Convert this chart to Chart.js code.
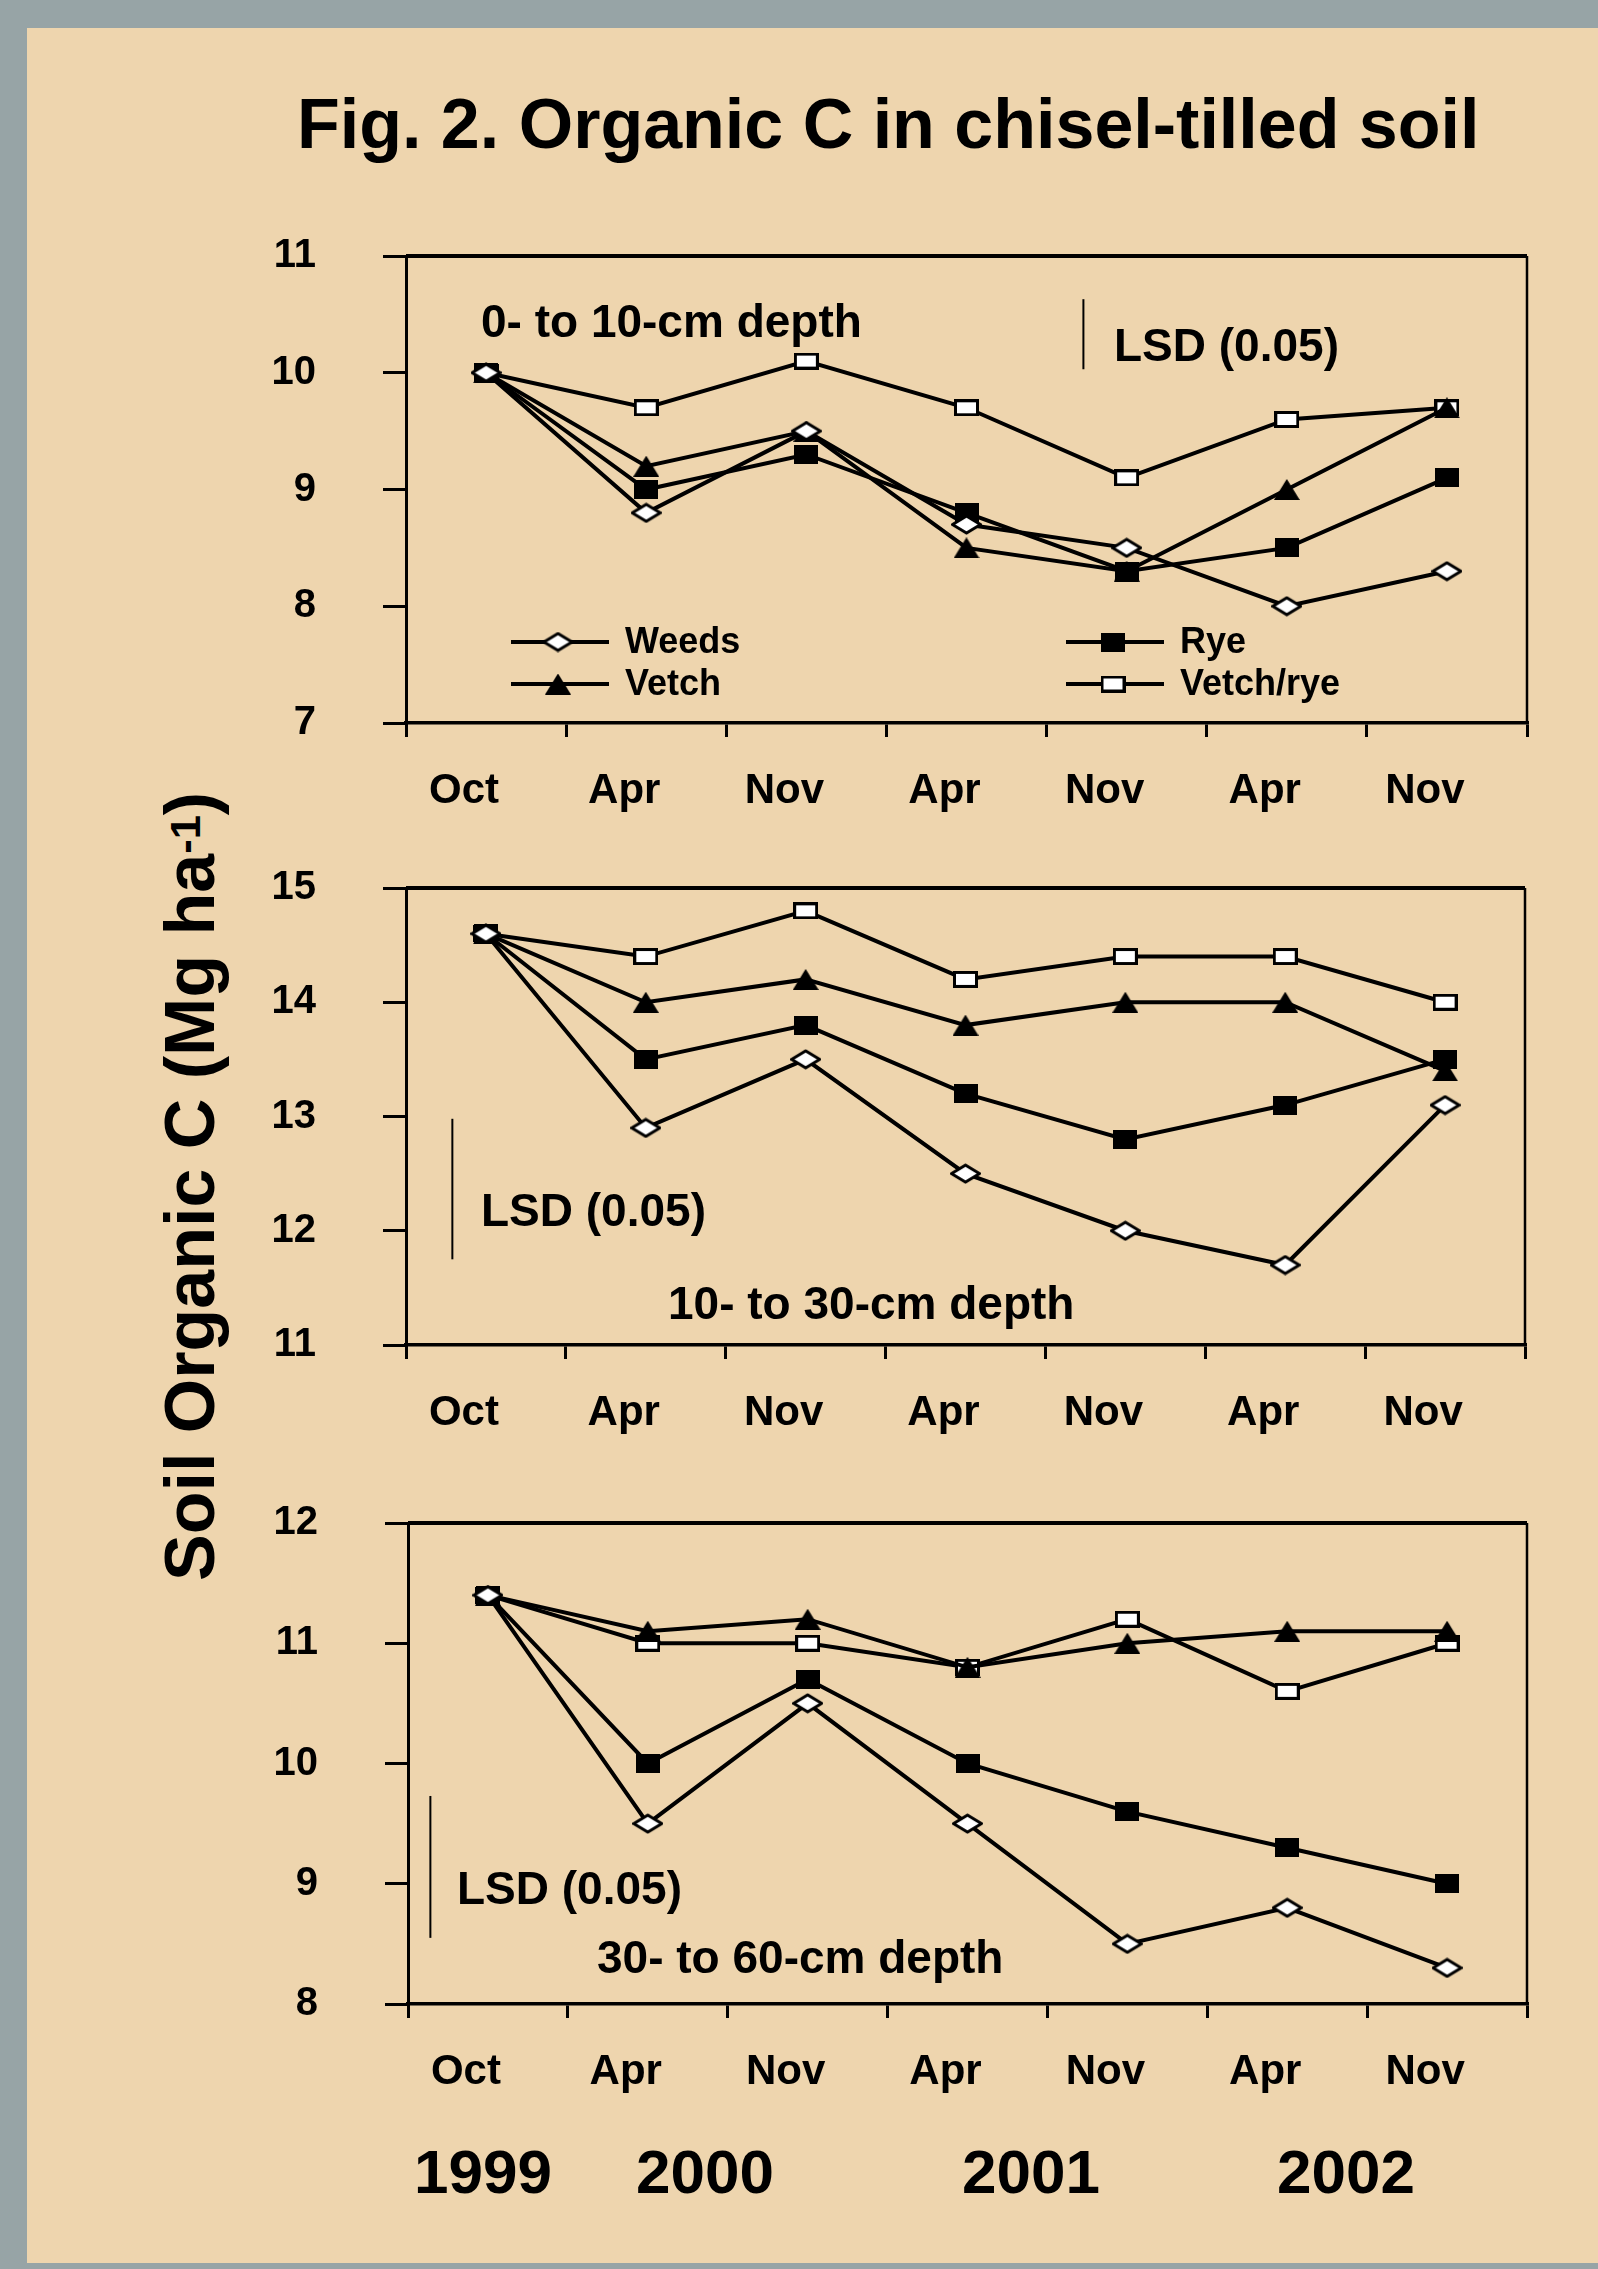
<!DOCTYPE html>
<html>
<head>
<meta charset="utf-8">
<script src="https://cdn.jsdelivr.net/npm/chart.js"></script>
<style>
  body { margin: 0; width: 1598px; height: 2269px; position: relative; overflow: hidden; background: #97a4a6;
         font-family: "Liberation Sans", Arial, sans-serif; font-weight: bold; color: #000; }
  #panel { position: absolute; left: 27px; top: 28px; width: 1571px; height: 2235px; background: #eed5ae; }
  .txt { position: absolute; white-space: nowrap; line-height: 1; }
  .yr { transform: translateX(-50%); font-size: 62px; top: 2141px; }
  canvas { position: absolute; left: 0; }
  #ytitle { left: 155px; top: 1581px; font-size: 70px; transform-origin: 0 0; transform: rotate(-90deg); }
  #ytitle span { font-size: 0.62em; vertical-align: 0.32em; line-height: 0; }
</style>
</head>
<body>
<div id="panel"></div>
<div class="txt" style="left:297px; top:89px; font-size:70px;">Fig. 2. Organic C in chisel-tilled soil</div>
<div class="txt" id="ytitle">Soil Organic C (Mg ha<span>-1</span>)</div>
<div class="txt yr" style="left:483px;">1999</div>
<div class="txt yr" style="left:705px;">2000</div>
<div class="txt yr" style="left:1031px;">2001</div>
<div class="txt yr" style="left:1346px;">2002</div>

<canvas id="c10" width="1598" height="617" style="top:206px; width:1598px; height:617px;"></canvas>
<canvas id="c30" width="1598" height="607" style="top:838px; width:1598px; height:607px;"></canvas>
<canvas id="c60" width="1598" height="631" style="top:1473px; width:1598px; height:631px;"></canvas>

<script>
// sampling dates
const months = ['Oct', 'Apr', 'Nov', 'Apr', 'Nov', 'Apr', 'Nov'];

// 0- to 10-cm depth
const weeds10 = [10.0, 8.8, 9.5, 8.7, 8.5, 8.0, 8.3];
const rye10 = [10.0, 9.0, 9.3, 8.8, 8.3, 8.5, 9.1];
const vetch10 = [10.0, 9.2, 9.5, 8.5, 8.3, 9.0, 9.7];
const vetchRye10 = [10.0, 9.7, 10.1, 9.7, 9.1, 9.6, 9.7];

// 10- to 30-cm depth
const weeds30 = [14.6, 12.9, 13.5, 12.5, 12.0, 11.7, 13.1];
const rye30 = [14.6, 13.5, 13.8, 13.2, 12.8, 13.1, 13.5];
const vetch30 = [14.6, 14.0, 14.2, 13.8, 14.0, 14.0, 13.4];
const vetchRye30 = [14.6, 14.4, 14.8, 14.2, 14.4, 14.4, 14.0];

// 30- to 60-cm depth
const weeds60 = [11.4, 9.5, 10.5, 9.5, 8.5, 8.8, 8.3];
const rye60 = [11.4, 10.0, 10.7, 10.0, 9.6, 9.3, 9.0];
const vetch60 = [11.4, 11.1, 11.2, 10.8, 11.0, 11.1, 11.1];
const vetchRye60 = [11.4, 11.0, 11.0, 10.8, 11.2, 10.6, 11.0];

// LSD (0.05) bar lengths, Mg/ha
const lsd10 = 0.6;
const lsd30 = 1.23;
const lsd60 = 1.18;

const FONT = '"Liberation Sans", Arial, sans-serif';

function marker(w, h, draw) {
  const c = document.createElement('canvas');
  c.width = w; c.height = h;
  const g = c.getContext('2d');
  g.strokeStyle = '#000'; g.fillStyle = '#000'; g.lineWidth = 3;
  draw(g, w, h);
  return c;
}
const mWeeds = marker(31, 21, (g, w, h) => {
  g.beginPath(); g.moveTo(w / 2, 2); g.lineTo(w - 1.5, h / 2); g.lineTo(w / 2, h - 2); g.lineTo(1.5, h / 2); g.closePath();
  g.fillStyle = '#fff'; g.fill(); g.lineJoin = 'round'; g.stroke();
});
const mRye = marker(24, 19, (g, w, h) => { g.fillRect(0, 0, w, h); });
const mVetch = marker(26, 21, (g, w, h) => {
  g.beginPath(); g.moveTo(w / 2, 0); g.lineTo(w, h); g.lineTo(0, h); g.closePath(); g.fill();
});
const mVetchRye = marker(25, 17, (g, w, h) => {
  g.fillStyle = '#fff'; g.fillRect(1.5, 1.5, w - 3, h - 3); g.strokeRect(1.5, 1.5, w - 3, h - 3);
});

function series(label, data, pt) {
  return { label: label, data: data, borderColor: '#000', borderWidth: 4, pointStyle: pt, pointRadius: 6,
           tension: 0, fill: false };
}

// frame, LSD bar, in-plot texts and legend
function notes(cfg) {
  return {
    id: 'notes',
    beforeDatasetsDraw(chart) {
      const ctx = chart.ctx, a = chart.chartArea;
      ctx.save();
      ctx.strokeStyle = '#000';
      ctx.lineWidth = 4;
      ctx.beginPath(); ctx.moveTo(a.left, a.top); ctx.lineTo(a.right, a.top); ctx.stroke();
      ctx.lineWidth = 2.5;
      ctx.beginPath(); ctx.moveTo(a.right, a.top); ctx.lineTo(a.right, a.bottom); ctx.stroke();

      const lx = chart.scales.x.getPixelForValue(cfg.lsdAt);
      const y0 = chart.scales.y.getPixelForValue(cfg.lsdBase);
      const y1 = chart.scales.y.getPixelForValue(cfg.lsdBase + cfg.lsd);
      ctx.lineWidth = 2;
      ctx.beginPath(); ctx.moveTo(lx, y0); ctx.lineTo(lx, y1); ctx.stroke();

      ctx.fillStyle = '#000';
      ctx.textBaseline = 'alphabetic';
      ctx.textAlign = 'left';
      cfg.texts.forEach(t => {
        ctx.font = 'bold ' + t.size + 'px ' + FONT;
        ctx.fillText(t.text, t.x, t.y);
      });

      (cfg.legend || []).forEach(e => {
        ctx.lineWidth = 4;
        ctx.beginPath(); ctx.moveTo(e.x, e.y); ctx.lineTo(e.x + 98, e.y); ctx.stroke();
        ctx.drawImage(e.pt, e.x + 47 - e.pt.width / 2, e.y - e.pt.height / 2);
        ctx.font = 'bold 36px ' + FONT;
        ctx.fillText(e.label, e.x + 114, e.y + 11);
      });
      ctx.restore();
    }
  };
}

function makeChart(id, sets, yMin, yMax, area, cfg) {
  return new Chart(document.getElementById(id), {
    type: 'line',
    data: { labels: months, datasets: sets },
    options: {
      responsive: false,
      animation: false,
      layout: { padding: { left: 0, top: 50, right: 1598 - area.right, bottom: 0 } },
      plugins: { legend: { display: false }, tooltip: { enabled: false } },
      scales: {
        x: {
          type: 'category',
          offset: true,
          grid: { offset: true, drawOnChartArea: false, tickLength: 14, lineWidth: 3, color: '#000' },
          border: { display: true, width: 3.5, color: '#000' },
          ticks: { color: '#000', font: { family: FONT, size: 42, weight: 'bold' }, padding: 29,
                   labelOffset: -22, maxRotation: 0, autoSkip: false },
          afterFit: s => { s.height = 100; s.paddingLeft = 0; s.paddingRight = 0; }
        },
        y: {
          min: yMin, max: yMax,
          grid: { drawOnChartArea: false, tickLength: 23, lineWidth: 3, color: '#000' },
          border: { display: true, width: 3, color: '#000' },
          ticks: { stepSize: 1, color: '#000', font: { family: FONT, size: 40, weight: 'bold' }, padding: 67 },
          afterFit: s => { s.width = area.left; s.paddingTop = 0; s.paddingBottom = 0; }
        }
      }
    },
    plugins: [notes(cfg)]
  });
}

makeChart('c10', [
  series('Weeds', weeds10, mWeeds),
  series('Rye', rye10, mRye),
  series('Vetch', vetch10, mVetch),
  series('Vetch/rye', vetchRye10, mVetchRye)
], 7, 11, { left: 406, right: 1527 }, {
  lsd: lsd10, lsdAt: 3.73, lsdBase: 10.03,
  texts: [
    { text: '0- to 10-cm depth', x: 481, y: 131, size: 46 },
    { text: 'LSD (0.05)', x: 1114, y: 155, size: 46 }
  ],
  legend: [
    { label: 'Weeds', pt: mWeeds, x: 511, y: 436 },
    { label: 'Vetch', pt: mVetch, x: 511, y: 478 },
    { label: 'Rye', pt: mRye, x: 1066, y: 436 },
    { label: 'Vetch/rye', pt: mVetchRye, x: 1066, y: 478 }
  ]
});

makeChart('c30', [
  series('Weeds', weeds30, mWeeds),
  series('Rye', rye30, mRye),
  series('Vetch', vetch30, mVetch),
  series('Vetch/rye', vetchRye30, mVetchRye)
], 11, 15, { left: 406, right: 1525 }, {
  lsd: lsd30, lsdAt: -0.21, lsdBase: 11.75,
  texts: [
    { text: 'LSD (0.05)', x: 481, y: 388, size: 46 },
    { text: '10- to 30-cm depth', x: 668, y: 481, size: 46 }
  ]
});

makeChart('c60', [
  series('Weeds', weeds60, mWeeds),
  series('Rye', rye60, mRye),
  series('Vetch', vetch60, mVetch),
  series('Vetch/rye', vetchRye60, mVetchRye)
], 8, 12, { left: 408, right: 1527 }, {
  lsd: lsd60, lsdAt: -0.36, lsdBase: 8.55,
  texts: [
    { text: 'LSD (0.05)', x: 457, y: 431, size: 46 },
    { text: '30- to 60-cm depth', x: 597, y: 500, size: 46 }
  ]
});
</script>
</body>
</html>
